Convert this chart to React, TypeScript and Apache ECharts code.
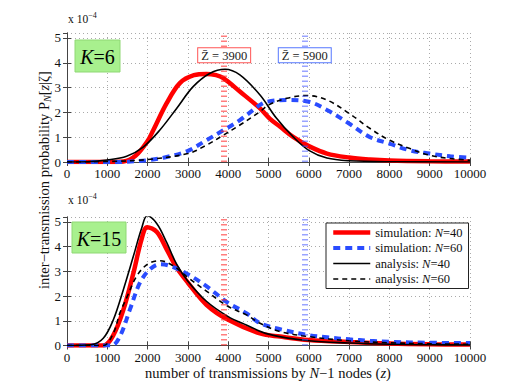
import React, { useEffect, useRef } from "react";
import * as echarts from "echarts";

// Values in units of 1e-4
const zK6SimN40 = [0, 1000, 1400, 1700, 2000, 2140, 2470, 2800, 3150, 3460, 3700, 3880, 4290, 4790, 5030, 5290, 5620, 6000, 6450, 7000, 7520, 8000, 9000, 10000];
const vK6SimN40 = [0, 0, 0.02, 0.25, 0.85, 1.28, 2.36, 3.18, 3.5, 3.55, 3.5, 3.38, 2.84, 2.16, 1.75, 1.42, 1.0, 0.64, 0.34, 0.18, 0.1, 0.06, 0.03, 0.02];
const zK6SimN60 = [0, 1300, 1700, 2000, 2470, 3000, 3460, 3880, 4290, 4790, 4960, 5455, 6000, 6450, 7000, 7520, 8000, 8510, 9000, 9510, 10000];
const vK6SimN60 = [0, 0, 0.03, 0.07, 0.2, 0.45, 0.88, 1.28, 1.69, 2.3, 2.43, 2.5, 2.43, 2.1, 1.55, 1.0, 0.74, 0.47, 0.34, 0.23, 0.17];
const zK6AnaN40 = [0, 500, 1000, 1480, 1890, 2300, 2720, 3130, 3550, 3920, 4290, 4790, 5200, 5620, 6000, 6450, 7000, 8000, 10000];
const vK6AnaN40 = [0, 0.01, 0.08, 0.23, 0.6, 1.28, 2.16, 3.04, 3.58, 3.74, 3.51, 2.7, 1.76, 1.0, 0.47, 0.16, 0.05, 0.01, 0];
const zK6AnaN60 = [0, 1000, 2000, 3000, 3460, 3880, 4290, 4790, 5000, 5455, 5950, 6450, 7000, 7520, 8000, 8510, 9000, 9510, 10000];
const vK6AnaN60 = [0, 0.02, 0.1, 0.34, 0.68, 1.08, 1.49, 2.03, 2.3, 2.57, 2.68, 2.5, 1.96, 1.35, 0.88, 0.54, 0.27, 0.14, 0.07];

const zK15SimN40 = [0, 900, 1150, 1400, 1650, 1850, 1990, 2230, 2470, 2720, 3000, 3460, 4000, 4790, 5290, 6000, 7000, 8000, 9000, 10000];
const vK15SimN40 = [0, 0, 0.42, 1.45, 2.95, 4.3, 4.79, 4.59, 3.9, 3.15, 2.54, 1.65, 1.04, 0.49, 0.36, 0.22, 0.14, 0.08, 0.05, 0.04];
const zK15SimN60 = [0, 1100, 1310, 1560, 1810, 2060, 2310, 2560, 3000, 3460, 4000, 4450, 4790, 5290, 6000, 6450, 7000, 7520, 8000, 9000, 10000];
const vK15SimN60 = [0, 0, 0.36, 1.45, 2.54, 3.09, 3.29, 3.22, 2.88, 2.4, 1.72, 1.31, 0.9, 0.66, 0.42, 0.33, 0.25, 0.19, 0.15, 0.11, 0.1];
const zK15AnaN40 = [0, 600, 900, 1150, 1400, 1650, 1850, 1990, 2230, 2470, 2720, 3000, 3460, 4000, 4450, 5000, 6000, 7000, 8000, 9000, 10000];
const vK15AnaN40 = [0, 0.03, 0.29, 1.04, 2.27, 3.63, 4.73, 5.25, 4.93, 4.18, 3.29, 2.6, 1.79, 1.17, 0.83, 0.46, 0.19, 0.1, 0.05, 0.03, 0.02];
const zK15AnaN60 = [0, 900, 1150, 1310, 1480, 1730, 2000, 2310, 2640, 3000, 3460, 4000, 4450, 4790, 5290, 6000, 7000, 8000, 9000, 10000];
const vK15AnaN60 = [0, 0, 0.5, 1.31, 1.93, 2.81, 3.29, 3.43, 3.22, 2.75, 2.2, 1.58, 1.24, 0.9, 0.56, 0.36, 0.19, 0.11, 0.07, 0.05];

const meanMarkers = [3900, 5900];
const kLabels = ["6", "15"];
const seriesNames = ["simulation: N=40", "simulation: N=60", "analysis: N=40", "analysis: N=60"];
const xTickInterval = 1000;
const yTickInterval = 1;

const FONT = "Liberation Serif";

const pairs = (z: number[], v: number[]) => z.map((x, i) => [x, v[i]]);

export default function App() {
  const ref = useRef<HTMLDivElement>(null);
  useEffect(() => {
    const chart = echarts.init(ref.current!, undefined, { renderer: "svg" });
    const grids = [
      { left: 67, top: 33, width: 403, height: 129 },
      { left: 67, top: 217, width: 403, height: 128.5 },
    ];
    const frameColor = "#444";
    const xAxes: any[] = [];
    const yAxes: any[] = [];
    [0, 1].forEach((g) => {
      xAxes.push({
        type: "value", gridIndex: g, position: "bottom", min: 0, max: 10000, interval: xTickInterval,
        axisLine: { show: true, lineStyle: { color: frameColor, width: 1 } },
        axisTick: { show: true, inside: true, length: 4, lineStyle: { color: frameColor } },
        axisLabel: { color: "#111", fontFamily: FONT, fontSize: 13, margin: 5, formatter: (v: number) => String(v) },
        splitLine: { show: true, lineStyle: { color: "#aaa", type: [1, 3], width: 1 } },
      });
      xAxes.push({
        type: "value", gridIndex: g, position: "top", min: 0, max: 10000, interval: xTickInterval,
        axisLine: { show: true, lineStyle: { color: frameColor, width: 1 } },
        axisTick: { show: true, inside: true, length: 4, lineStyle: { color: frameColor } },
        axisLabel: { show: false }, splitLine: { show: false },
      });
      yAxes.push({
        type: "value", gridIndex: g, position: "left", min: 0, max: 5.2, interval: yTickInterval,
        axisLine: { show: true, lineStyle: { color: frameColor, width: 1 } },
        axisTick: { show: true, inside: true, length: 4, lineStyle: { color: frameColor } },
        axisLabel: { color: "#111", fontFamily: FONT, fontSize: 13, margin: 6, showMaxLabel: false },
        splitLine: { show: true, lineStyle: { color: "#aaa", type: [1, 3], width: 1 } },
      });
      yAxes.push({
        type: "value", gridIndex: g, position: "right", min: 0, max: 5.2, interval: yTickInterval,
        axisLine: { show: true, lineStyle: { color: frameColor, width: 1 } },
        axisTick: { show: true, inside: true, length: 4, lineStyle: { color: frameColor } },
        axisLabel: { show: false }, splitLine: { show: false },
      });
    });

    const styles = [
      { color: "#ff0000", width: 4.5, type: "solid" as any },
      { color: "#2a4cff", width: 4, type: [7, 5] as any },
      { color: "#000000", width: 1.6, type: "solid" as any },
      { color: "#000000", width: 1.6, type: [5, 4] as any },
    ];
    const dataSets = [
      [pairs(zK6SimN40, vK6SimN40), pairs(zK6SimN60, vK6SimN60), pairs(zK6AnaN40, vK6AnaN40), pairs(zK6AnaN60, vK6AnaN60)],
      [pairs(zK15SimN40, vK15SimN40), pairs(zK15SimN60, vK15SimN60), pairs(zK15AnaN40, vK15AnaN40), pairs(zK15AnaN60, vK15AnaN60)],
    ];
    const markerColors = ["rgba(255,40,40,0.6)", "rgba(70,90,255,0.55)"];
    const markerBorder = ["#ff5555", "#5577ff"];

    const series: any[] = [];
    [0, 1].forEach((g) => {
      dataSets[g].forEach((d, i) => {
        const s: any = {
          type: "line", name: seriesNames[i], xAxisIndex: g * 2, yAxisIndex: g * 2,
          data: d, symbol: "none", smooth: 0.35, z: 3 + (i >= 2 ? 1 : 0),
          lineStyle: { color: styles[i].color, width: styles[i].width, type: styles[i].type },
          itemStyle: { color: styles[i].color },
        };
        if (i === 0) {
          s.markLine = {
            silent: true, symbol: ["none", "none"], animation: false,
            label: { show: false },
            data: meanMarkers.map((m, k) => ({
              xAxis: m,
              lineStyle: { color: markerColors[k], width: 6, type: [1.5, 3.5] },
            })),
          };
          if (g === 0) {
            s.markPoint = {
              silent: true, symbol: "rect", symbolSize: 0, animation: false,
              data: meanMarkers.map((m, k) => ({
                coord: [m, 4.3],
                label: {
                  show: true, position: "inside",
                  formatter: "{a|Z\u0304 = " + m + "}",
                  rich: { a: { fontFamily: FONT, fontSize: 12.5, color: "#222" } },
                  backgroundColor: "#fff", borderColor: markerBorder[k], borderWidth: 1,
                  padding: [1, 3, 0, 3],
                },
              })),
            };
          }
        }
        series.push(s);
      });
    });

    const graphics: any[] = [];
    const kBoxes = [
      { x: 75, y: 40, w: 45, h: 32 },
      { x: 72, y: 222, w: 54, h: 31 },
    ];
    const expoY = [27, 208];
    kLabels.forEach((k, g) => {
      const b = kBoxes[g];
      graphics.push({
        type: "rect", shape: { x: b.x, y: b.y, width: b.w, height: b.h },
        style: { fill: "#a8f08e", stroke: "#8fd874", lineWidth: 1 }, z: 10,
      });
      graphics.push({
        type: "text", x: b.x + b.w / 2, y: b.y + b.h / 2 + 1, z: 11,
        style: {
          text: "{i|K}{n|=" + k + "}", align: "center", verticalAlign: "middle",
          rich: {
            i: { fontFamily: FONT, fontSize: 20, fontStyle: "italic", fill: "#000" },
            n: { fontFamily: FONT, fontSize: 20, fill: "#000" },
          },
        },
      });
      graphics.push({
        type: "text", x: 68, y: expoY[g], z: 11,
        style: {
          text: "{a|x 10}{s|\u22124}", verticalAlign: "bottom",
          rich: {
            a: { fontFamily: FONT, fontSize: 11.5, fill: "#111" },
            s: { fontFamily: FONT, fontSize: 8, fill: "#111", verticalAlign: "top", padding: [0, 0, 8, 0] },
          },
        },
      });
    });
    graphics.push({
      type: "text", x: 44, y: 180, rotation: Math.PI / 2, z: 11,
      style: {
        text: "{a|inter\u2212transmission probability P}{s|N}{a|[}{i|z}{a||\u03B6]}",
        align: "center", verticalAlign: "middle",
        rich: {
          a: { fontFamily: FONT, fontSize: 14.5, fill: "#111" },
          i: { fontFamily: FONT, fontSize: 14.5, fontStyle: "italic", fill: "#111" },
          s: { fontFamily: FONT, fontSize: 10, fontStyle: "italic", fill: "#111", padding: [6, 0, 0, 0] },
        },
      },
    });
    graphics.push({
      type: "text", x: 268, y: 373, z: 11,
      style: {
        text: "{a|number of transmissions by }{i|N}{a|\u22121 nodes (}{i|z}{a|)}",
        align: "center", verticalAlign: "middle",
        rich: {
          a: { fontFamily: FONT, fontSize: 14.5, fill: "#111" },
          i: { fontFamily: FONT, fontSize: 14.5, fontStyle: "italic", fill: "#111" },
        },
      },
    });

    chart.setOption({
      animation: false,
      backgroundColor: "#fff",
      grid: grids,
      xAxis: xAxes,
      yAxis: yAxes,
      series,
      graphic: graphics,
      legend: {
        data: seriesNames,
        orient: "vertical", left: 326, top: 223,
        itemWidth: 37, itemHeight: 12, itemGap: 2.5,
        padding: [3, 6, 3, 5],
        backgroundColor: "#fff", borderColor: "#222", borderWidth: 1, borderRadius: 0,
        selectedMode: false,
        itemStyle: { opacity: 0, borderWidth: 0 },
        lineStyle: { width: "inherit" },
        formatter: (name: string) => {
          const [pre, post] = name.split("N");
          return "{a|" + pre + "}{i|N}{a|" + post + "}";
        },
        textStyle: {
          rich: {
            a: { fontFamily: FONT, fontSize: 12.5, color: "#111" },
            i: { fontFamily: FONT, fontSize: 12.5, fontStyle: "italic", color: "#111" },
          },
        },
      },
    });
    return () => chart.dispose();
  }, []);
  return <div ref={ref} style={{ width: 518, height: 389, position: "absolute", left: 0, top: 0 }} />;
}
